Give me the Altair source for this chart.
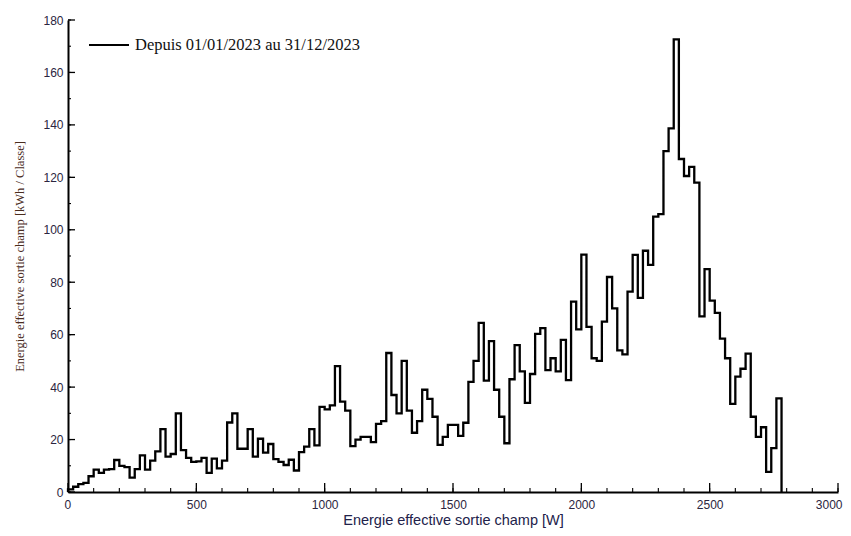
import altair as alt
import pandas as pd

BIN_WIDTH = 20  # W per class

# Energy per 20 W class [kWh / Classe], classes 0-20, 20-40, ... 2760-2780 W
energy = [
    1, 2, 3, 3.5, 6, 8.5, 7.3, 8.5, 8.7, 12.2,
    10, 9.5, 5.5, 8.7, 14, 8.5, 12, 15.5, 24, 13.5,
    14.5, 30, 16, 13, 11.5, 11.7, 13, 7.3, 12.7, 9,
    12, 26.5, 30, 16.5, 16.5, 24, 13.5, 20.3, 15, 18.3,
    12.5, 11.5, 10.3, 12.3, 8.2, 15.2, 17.3, 24, 17.8, 32.5,
    31.5, 33, 48, 34.5, 31, 17.5, 20, 21, 21, 19,
    26, 27, 53, 37, 30, 50, 31, 22.6, 27, 39,
    35.5, 28.7, 18, 21, 25.6, 25.6, 21.4, 26.4, 42, 50,
    64.5, 42.5, 57.5, 39, 28.7, 18.6, 43, 56, 46, 34,
    45, 60.3, 62.5, 46.5, 51, 46, 58, 42.7, 72.6, 62,
    90.5, 63, 51, 50, 65, 82, 70, 54, 52.5, 76.4,
    90.4, 74, 92, 86.6, 105, 106, 130, 138.7, 172.6, 127,
    120.5, 124, 118, 67, 85, 73, 68.3, 58.5, 51, 33.6,
    44, 47, 52.8, 28.7, 21, 24.7, 7.7, 16.7, 35.7,
]

series_name = "Depuis 01/01/2023 au 31/12/2023"
x_major = [0, 500, 1000, 1500, 2000, 2500, 3000]
x_minor = list(range(0, 3001, 100))
y_major = list(range(0, 181, 20))
y_minor = list(range(0, 181, 10))

edges = [0] + [i * BIN_WIDTH for i in range(len(energy))] + [len(energy) * BIN_WIDTH]
vals = [0] + energy + [0]
df = pd.DataFrame({
    "x": edges,
    "y": vals,
    "order": list(range(len(edges))),
    "series": series_name,
})

xscale = alt.Scale(domain=[0, 3000], nice=False, zero=False)
yscale = alt.Scale(domain=[0, 180], nice=False)

label_color = "#2b2540"

line = alt.Chart(df).mark_line(
    interpolate="step-after", strokeWidth=2.3, strokeJoin="miter"
).encode(
    x=alt.X("x:Q", scale=xscale, axis=alt.Axis(
        values=x_major, format="d", title="Energie effective sortie champ [W]",
        tickSize=0, labelPadding=7, grid=False,
        labelFont="Liberation Sans", labelFontSize=12, labelColor=label_color,
        titleFont="Liberation Sans", titleFontSize=14.5, titleFontWeight="normal",
        titleColor="#22224a", titlePadding=3,
        domainColor="#000000", domainWidth=2,
        labelFlush=True, labelFlushOffset=4,
    )),
    y=alt.Y("y:Q", scale=yscale, axis=alt.Axis(
        values=y_major, format="d", title="Energie effective sortie champ [kWh / Classe]",
        tickSize=0, labelPadding=5, grid=False,
        labelFont="Liberation Sans", labelFontSize=12, labelColor=label_color,
        titleFont="Liberation Serif", titleFontSize=12.5, titleFontWeight="normal",
        titleColor="#4a2c1e", titlePadding=16,
        domainColor="#000000", domainWidth=2,
    )),
    color=alt.Color("series:N", scale=alt.Scale(range=["#000000"]), legend=alt.Legend(
        title=None, orient="none", legendX=20, legendY=4,
        symbolType="stroke", symbolSize=1600, symbolStrokeWidth=2,
        symbolStrokeColor="#000000",
        labelFont="Liberation Serif", labelFontSize=16.5, labelColor="#111111",
        labelOffset=5, padding=0, labelLimit=0,
    )),
    order="order:Q",
)

xmaj_df = pd.DataFrame({"v": x_major})
xmin_df = pd.DataFrame({"v": x_minor})
ymaj_df = pd.DataFrame({"v": y_major})
ymin_df = pd.DataFrame({"v": y_minor})

x_major_ticks = alt.Chart(xmaj_df).mark_rule(color="#000000", strokeWidth=1.3).encode(
    x=alt.X("v:Q", scale=xscale), y=alt.value(472), y2=alt.value(463)
)
x_minor_ticks = alt.Chart(xmin_df).mark_rule(color="#000000", strokeWidth=1.1).encode(
    x=alt.X("v:Q", scale=xscale), y=alt.value(472), y2=alt.value(468)
)
y_major_ticks = alt.Chart(ymaj_df).mark_rule(color="#000000", strokeWidth=1.3).encode(
    y=alt.Y("v:Q", scale=yscale), x=alt.value(0), x2=alt.value(7)
)
y_minor_ticks = alt.Chart(ymin_df).mark_rule(color="#000000", strokeWidth=1.1).encode(
    y=alt.Y("v:Q", scale=yscale), x=alt.value(0), x2=alt.value(3)
)

chart = alt.layer(
    x_minor_ticks, x_major_ticks, y_minor_ticks, y_major_ticks, line
).properties(
    width=770, height=472,
    padding={"left": 60, "top": 12, "right": 5, "bottom": 36},
    autosize=alt.AutoSizeParams(type="none"),
    background="#ffffff",
).configure_view(stroke=None)

chart.save("out.html", embed_options={"renderer": "svg", "actions": False})
